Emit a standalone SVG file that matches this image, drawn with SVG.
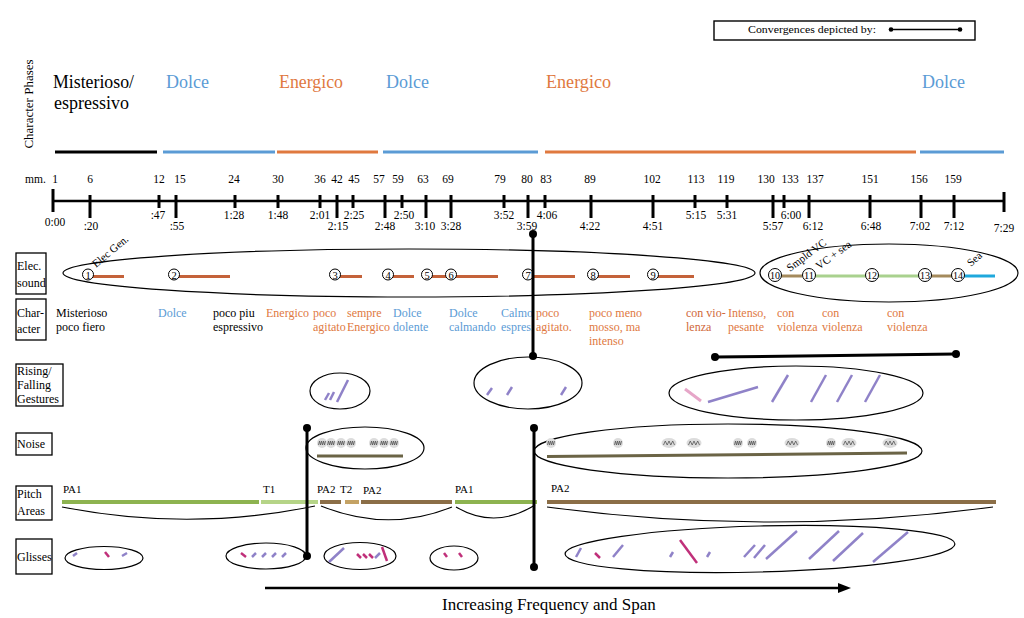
<svg xmlns="http://www.w3.org/2000/svg" xmlns:xlink="http://www.w3.org/1999/xlink" width="1024" height="618" viewBox="0 0 1024 618">
<style>
text{font-family:"Liberation Serif","Times New Roman",serif;fill:#000}
.ph{font-size:19px}
.num{font-size:11.5px;text-anchor:middle}
.lab{font-size:12px}
.ch{font-size:12px}
.or{fill:#e0793f}
.bl{fill:#5b9bd5}
.tick{stroke:#000;stroke-width:3}
.box{fill:none;stroke:#000;stroke-width:1.3}
.ell{fill:none;stroke:#000;stroke-width:1.2}
.cn{fill:#fff;stroke:#000;stroke-width:1}
.cnt{font-size:10.5px;text-anchor:middle}
.el{stroke:#c4623a;stroke-width:3}
.pu{stroke:#8f82c8;stroke-width:2.5;stroke-linecap:butt}
.mg{stroke:#c0307a;stroke-width:2.5}
.pk{stroke:#e6a6c8;stroke-width:3}
.conv{stroke:#000;stroke-width:3;fill:none}
.dot{fill:#000}
.br{fill:none;stroke:#000;stroke-width:1.1}
</style>
<defs>
<g id="nz"><ellipse rx="5" ry="5" fill="#dcdcdc"/><path d="M-3.5,2 L-2.5,-2 L-1.5,2 L-0.5,-2 L0.5,2 L1.5,-2 L2.5,2 L3.5,-2" fill="none" stroke="#555" stroke-width="0.8"/></g>
<g id="nzw"><ellipse rx="7.5" ry="5" fill="#dcdcdc"/><path d="M-5.5,2 L-3.7,-2 L-1.8,2 L0,-2 L1.8,2 L3.7,-2 L5.5,2" fill="none" stroke="#555" stroke-width="0.8"/></g>
</defs>
<rect width="1024" height="618" fill="#fff"/>

<g id="legend">
<rect x="714" y="21" width="261" height="19" fill="none" stroke="#000" stroke-width="1.4"/>
<text x="748" y="33" font-size="11" textLength="128" lengthAdjust="spacingAndGlyphs">Convergences depicted by:</text>
<line x1="891" y1="29.5" x2="960" y2="29.5" stroke="#000" stroke-width="1.5"/>
<circle cx="891" cy="29.5" r="2.3"/><circle cx="960" cy="29.5" r="2.3"/>
</g>

<g id="phases">
<text transform="translate(33,104) rotate(-90)" font-size="13" text-anchor="middle">Character Phases</text>
<text class="ph" x="53" y="88" textLength="81" lengthAdjust="spacingAndGlyphs">Misterioso/</text>
<text class="ph" x="54" y="109" textLength="75" lengthAdjust="spacingAndGlyphs">espressivo</text>
<text class="ph bl" x="166" y="88" textLength="43" lengthAdjust="spacingAndGlyphs">Dolce</text>
<text class="ph or" x="279" y="88" textLength="64" lengthAdjust="spacingAndGlyphs">Energico</text>
<text class="ph bl" x="386" y="88" textLength="43" lengthAdjust="spacingAndGlyphs">Dolce</text>
<text class="ph or" x="546" y="88" textLength="65" lengthAdjust="spacingAndGlyphs">Energico</text>
<text class="ph bl" x="922" y="88" textLength="43" lengthAdjust="spacingAndGlyphs">Dolce</text>
<g stroke-width="3">
<line x1="55" y1="152" x2="157" y2="152" stroke="#000"/>
<line x1="163" y1="152" x2="275" y2="152" stroke="#5b9bd5"/>
<line x1="277" y1="152" x2="378" y2="152" stroke="#e0793f"/>
<line x1="383" y1="152" x2="538" y2="152" stroke="#5b9bd5"/>
<line x1="545" y1="152" x2="916" y2="152" stroke="#e0793f"/>
<line x1="920" y1="152" x2="1004" y2="152" stroke="#5b9bd5"/>
</g>
</g>

<g id="timeline">
<line x1="53" y1="201" x2="1004" y2="201" stroke="#000" stroke-width="2.5"/>
<text x="25" y="183" font-size="11.5">mm.</text>
<line class="tick" x1="53" y1="189" x2="53" y2="212"/><text class="num" x="55" y="183">1</text><text class="num" x="55" y="226">0:00</text>
<line class="tick" x1="90" y1="195" x2="90" y2="218"/><text class="num" x="90" y="183">6</text><text class="num" x="91" y="230">:20</text>
<line class="tick" x1="159" y1="195" x2="159" y2="208"/><text class="num" x="159" y="183">12</text><text class="num" x="158" y="219">:47</text>
<line class="tick" x1="176" y1="195" x2="176" y2="218"/><text class="num" x="180" y="183">15</text><text class="num" x="177" y="230">:55</text>
<line class="tick" x1="235" y1="195" x2="235" y2="208"/><text class="num" x="234" y="183">24</text><text class="num" x="234" y="219">1:28</text>
<line class="tick" x1="278" y1="195" x2="278" y2="208"/><text class="num" x="278" y="183">30</text><text class="num" x="278" y="219">1:48</text>
<line class="tick" x1="320" y1="195" x2="320" y2="208"/><text class="num" x="320" y="183">36</text><text class="num" x="320" y="219">2:01</text>
<line class="tick" x1="337" y1="195" x2="337" y2="218"/><text class="num" x="337" y="183">42</text><text class="num" x="338" y="230">2:15</text>
<line class="tick" x1="353" y1="195" x2="353" y2="208"/><text class="num" x="354" y="183">45</text><text class="num" x="354" y="219">2:25</text>
<line class="tick" x1="385" y1="195" x2="385" y2="218"/><text class="num" x="379" y="183">57</text><text class="num" x="385" y="230">2:48</text>
<line class="tick" x1="402" y1="195" x2="402" y2="208"/><text class="num" x="398" y="183">59</text><text class="num" x="404" y="219">2:50</text>
<line class="tick" x1="426" y1="195" x2="426" y2="218"/><text class="num" x="423" y="183">63</text><text class="num" x="425" y="230">3:10</text>
<line class="tick" x1="451" y1="195" x2="451" y2="218"/><text class="num" x="448" y="183">69</text><text class="num" x="451" y="230">3:28</text>
<line class="tick" x1="504" y1="195" x2="504" y2="208"/><text class="num" x="500" y="183">79</text><text class="num" x="504" y="219">3:52</text>
<line class="tick" x1="528" y1="195" x2="528" y2="218"/><text class="num" x="527" y="183">80</text><text class="num" x="527" y="230">3:59</text>
<line class="tick" x1="545" y1="195" x2="545" y2="208"/><text class="num" x="546" y="183">83</text><text class="num" x="547" y="219">4:06</text>
<line class="tick" x1="591" y1="195" x2="591" y2="218"/><text class="num" x="590" y="183">89</text><text class="num" x="590" y="230">4:22</text>
<line class="tick" x1="653" y1="195" x2="653" y2="218"/><text class="num" x="652" y="183">102</text><text class="num" x="653" y="230">4:51</text>
<line class="tick" x1="695" y1="195" x2="695" y2="208"/><text class="num" x="696" y="183">113</text><text class="num" x="696" y="219">5:15</text>
<line class="tick" x1="727" y1="195" x2="727" y2="208"/><text class="num" x="726" y="183">119</text><text class="num" x="727" y="219">5:31</text>
<line class="tick" x1="773" y1="195" x2="773" y2="218"/><text class="num" x="766" y="183">130</text><text class="num" x="773" y="230">5:57</text>
<line class="tick" x1="784" y1="195" x2="784" y2="208"/><text class="num" x="790" y="183">133</text><text class="num" x="791" y="219">6:00</text>
<line class="tick" x1="809" y1="195" x2="809" y2="218"/><text class="num" x="815" y="183">137</text><text class="num" x="813" y="230">6:12</text>
<line class="tick" x1="870" y1="195" x2="870" y2="218"/><text class="num" x="870" y="183">151</text><text class="num" x="871" y="230">6:48</text>
<line class="tick" x1="921" y1="195" x2="921" y2="218"/><text class="num" x="919" y="183">156</text><text class="num" x="920" y="230">7:02</text>
<line class="tick" x1="954" y1="195" x2="954" y2="218"/><text class="num" x="953" y="183">159</text><text class="num" x="954" y="230">7:12</text>
<line class="tick" x1="1004" y1="192" x2="1004" y2="212"/><text class="num" x="1004" y="232">7:29</text>
</g>

<g id="row-labels">
<rect class="box" x="16" y="253" width="30" height="41"/>
<text class="lab" x="17" y="270">Elec.</text><text class="lab" x="17" y="287">sound</text>
<rect class="box" x="16" y="299" width="30" height="41"/>
<text class="lab" x="17" y="317">Char-</text><text class="lab" x="17" y="333">acter</text>
<rect class="box" x="16" y="364" width="47" height="42"/>
<text class="lab" x="17" y="375">Rising/</text><text class="lab" x="17" y="389">Falling</text><text class="lab" x="17" y="403">Gestures</text>
<rect class="box" x="16" y="433" width="36" height="22"/>
<text class="lab" x="17" y="448">Noise</text>
<rect class="box" x="16" y="486" width="36" height="34"/>
<text class="lab" x="17" y="498">Pitch</text><text class="lab" x="17" y="515">Areas</text>
<rect class="box" x="16" y="539" width="36" height="35"/>
<text class="lab" x="17" y="561">Glisses</text>
</g>

<g id="elec-sound">
<ellipse class="ell" cx="409" cy="273" rx="346" ry="24"/>
<ellipse class="ell" cx="889" cy="273" rx="129" ry="29"/>
<text transform="translate(96,268) rotate(-40)" font-size="11">Elec Gen.</text>
<text transform="translate(790,272) rotate(-37)" font-size="11">Smpld VC</text>
<text transform="translate(819,270) rotate(-36)" font-size="11">VC + sea</text>
<text transform="translate(971,267) rotate(-42)" font-size="11">Sea</text>
<line class="el" x1="93" y1="276.5" x2="124" y2="276.5"/>
<line class="el" x1="179" y1="276.5" x2="230" y2="276.5"/>
<line class="el" x1="340" y1="276.5" x2="362" y2="276.5"/>
<line class="el" x1="393" y1="276.5" x2="414" y2="276.5"/>
<line class="el" x1="432" y1="276.5" x2="446" y2="276.5"/>
<line class="el" x1="456" y1="276.5" x2="498" y2="276.5"/>
<line class="el" x1="533" y1="276.5" x2="575" y2="276.5"/>
<line class="el" x1="598" y1="276.5" x2="630" y2="276.5"/>
<line class="el" x1="658" y1="276.5" x2="694" y2="276.5"/>
<line x1="781" y1="276" x2="802" y2="276" stroke="#a48a5c" stroke-width="3"/>
<line x1="815" y1="276" x2="866" y2="276" stroke="#a9d18e" stroke-width="3"/>
<line x1="878" y1="276" x2="919" y2="276" stroke="#a9d18e" stroke-width="3"/>
<line x1="931" y1="276" x2="952" y2="276" stroke="#a48a5c" stroke-width="3"/>
<line x1="964" y1="276" x2="995" y2="276" stroke="#1fa8dc" stroke-width="3"/>
<g id="n1"><circle class="cn" cx="88" cy="274.5" r="5.5"/><text class="cnt" x="88" y="278.5">1</text></g>
<g id="n2"><circle class="cn" cx="174" cy="274.5" r="5.5"/><text class="cnt" x="174" y="278.5">2</text></g>
<g id="n3"><circle class="cn" cx="335" cy="274.5" r="5.5"/><text class="cnt" x="335" y="278.5">3</text></g>
<g id="n4"><circle class="cn" cx="388" cy="274.5" r="5.5"/><text class="cnt" x="388" y="278.5">4</text></g>
<g id="n5"><circle class="cn" cx="427" cy="274.5" r="5.5"/><text class="cnt" x="427" y="278.5">5</text></g>
<g id="n6"><circle class="cn" cx="451" cy="274.5" r="5.5"/><text class="cnt" x="451" y="278.5">6</text></g>
<g id="n7"><circle class="cn" cx="528" cy="274.5" r="5.5"/><text class="cnt" x="528" y="278.5">7</text></g>
<g id="n8"><circle class="cn" cx="593" cy="274.5" r="5.5"/><text class="cnt" x="593" y="278.5">8</text></g>
<g id="n9"><circle class="cn" cx="653" cy="274.5" r="5.5"/><text class="cnt" x="653" y="278.5">9</text></g>
<g id="n10"><circle class="cn" cx="775" cy="275" r="6.5"/><text class="cnt" x="775" y="279" textLength="10" lengthAdjust="spacingAndGlyphs">10</text></g>
<g id="n11"><circle class="cn" cx="809" cy="275" r="6.5"/><text class="cnt" x="809" y="279" textLength="10" lengthAdjust="spacingAndGlyphs">11</text></g>
<g id="n12"><circle class="cn" cx="872" cy="275" r="6.5"/><text class="cnt" x="872" y="279" textLength="10" lengthAdjust="spacingAndGlyphs">12</text></g>
<g id="n13"><circle class="cn" cx="925" cy="275" r="6.5"/><text class="cnt" x="925" y="279" textLength="10" lengthAdjust="spacingAndGlyphs">13</text></g>
<g id="n14"><circle class="cn" cx="958" cy="275" r="6.5"/><text class="cnt" x="958" y="279" textLength="10" lengthAdjust="spacingAndGlyphs">14</text></g>
</g>

<g id="character">
<text class="ch" x="56" y="317">Misterioso</text><text class="ch" x="56" y="331">poco fiero</text>
<text class="ch bl" x="158" y="317">Dolce</text>
<text class="ch" x="213" y="317">poco piu</text><text class="ch" x="213" y="331">espressivo</text>
<text class="ch or" x="266" y="317">Energico</text>
<text class="ch or" x="313" y="317">poco</text><text class="ch or" x="313" y="331">agitato</text>
<text class="ch or" x="347" y="317">sempre</text><text class="ch or" x="347" y="331">Energico</text>
<text class="ch bl" x="393" y="317">Dolce</text><text class="ch bl" x="393" y="331">dolente</text>
<text class="ch bl" x="449" y="317">Dolce</text><text class="ch bl" x="449" y="331">calmando</text>
<text class="ch bl" x="501" y="317">Calmo</text><text class="ch bl" x="501" y="331">espres.</text>
<text class="ch or" x="536" y="317">poco</text><text class="ch or" x="536" y="331">agitato.</text>
<text class="ch or" x="589" y="317">poco meno</text><text class="ch or" x="589" y="331">mosso, ma</text><text class="ch or" x="589" y="345">intenso</text>
<text class="ch" x="686" y="317" style="fill:#d0683a">con vio-</text><text class="ch" x="686" y="331" style="fill:#d0683a">lenza</text>
<text class="ch or" x="728" y="317">Intenso,</text><text class="ch or" x="728" y="331">pesante</text>
<text class="ch or" x="777" y="317">con</text><text class="ch or" x="777" y="331">violenza</text>
<text class="ch or" x="822" y="317">con</text><text class="ch or" x="822" y="331">violenza</text>
<text class="ch or" x="887" y="317">con</text><text class="ch or" x="887" y="331">violenza</text>
</g>

<g id="rising">
<ellipse class="ell" cx="340" cy="391" rx="30" ry="18"/>
<line class="pu" x1="325" y1="400" x2="329" y2="393"/>
<line class="pu" x1="330" y1="400" x2="334" y2="392"/>
<line class="pu" x1="337" y1="402" x2="348" y2="380"/>
<ellipse class="ell" cx="528" cy="383" rx="54" ry="26"/>
<line class="pu" x1="487" y1="395" x2="492" y2="388"/>
<line class="pu" x1="507" y1="395" x2="512" y2="387"/>
<line class="pu" x1="561" y1="395" x2="566" y2="387"/>
<ellipse class="ell" cx="796" cy="393" rx="127" ry="27"/>
<line class="pk" x1="685" y1="389" x2="701" y2="401"/>
<line class="pu" x1="708" y1="402" x2="758" y2="387" stroke-width="3"/>
<line class="pu" x1="772" y1="402" x2="788" y2="375" stroke-width="3"/>
<line class="pu" x1="811" y1="402" x2="826" y2="375" stroke-width="3"/>
<line class="pu" x1="837" y1="402" x2="852" y2="375" stroke-width="3"/>
<line class="pu" x1="865" y1="402" x2="880" y2="375" stroke-width="3"/>
</g>

<g id="noise">
<ellipse class="ell" cx="365" cy="448" rx="59" ry="21"/>
<line x1="317" y1="456" x2="403" y2="456" stroke="#6b6446" stroke-width="3"/>
<use xlink:href="#nz" x="322" y="443"/><use xlink:href="#nz" x="331" y="443"/><use xlink:href="#nz" x="341" y="443"/><use xlink:href="#nz" x="351" y="443"/>
<use xlink:href="#nz" x="374" y="443"/><use xlink:href="#nz" x="384" y="443"/><use xlink:href="#nz" x="394" y="443"/>
<ellipse class="ell" cx="728" cy="451" rx="194" ry="27"/>
<line x1="547" y1="456.5" x2="907" y2="453" stroke="#6b6446" stroke-width="3"/>
<use xlink:href="#nz" x="551" y="443"/><use xlink:href="#nz" x="618" y="443"/>
<use xlink:href="#nzw" x="669" y="443"/><use xlink:href="#nzw" x="694" y="443"/>
<use xlink:href="#nz" x="738" y="443"/><use xlink:href="#nz" x="752" y="443"/>
<use xlink:href="#nzw" x="792" y="443"/><use xlink:href="#nz" x="831" y="443"/>
<use xlink:href="#nzw" x="849" y="443"/><use xlink:href="#nzw" x="890" y="443"/>
</g>

<g id="pitch">
<text x="63" y="493" font-size="11">PA1</text>
<text x="263" y="493" font-size="11">T1</text>
<text x="317" y="493" font-size="11">PA2</text>
<text x="340" y="493" font-size="11">T2</text>
<text x="363" y="494" font-size="11">PA2</text>
<text x="455" y="493" font-size="11">PA1</text>
<text x="551" y="492" font-size="11">PA2</text>
<g stroke-width="4">
<line x1="62" y1="502" x2="259" y2="502" stroke="#8db350"/>
<line x1="261" y1="502" x2="318" y2="502" stroke="#b5d487"/>
<line x1="320" y1="502" x2="341" y2="502" stroke="#8b6e47"/>
<line x1="345" y1="502" x2="359" y2="502" stroke="#c4a264"/>
<line x1="361" y1="502" x2="452" y2="502" stroke="#8b6e47"/>
<line x1="455" y1="502" x2="537" y2="502" stroke="#8db350"/>
<line x1="547" y1="502" x2="996" y2="502" stroke="#8b6e47"/>
</g>
<path class="br" d="M62,507 Q190,532 315,506"/>
<path class="br" d="M321,506 Q388,533 452,507"/>
<path class="br" d="M456,507 Q495,530 535,505"/>
<path class="br" d="M547,507 Q770,537 993,507"/>
</g>

<g id="glisses">
<ellipse class="ell" cx="104" cy="558" rx="39" ry="11.5"/>
<line class="pu" x1="73" y1="556" x2="77" y2="553"/>
<line class="mg" x1="105" y1="552" x2="109" y2="557"/>
<line class="pu" x1="122" y1="556" x2="127" y2="553"/>
<ellipse class="ell" cx="266" cy="556" rx="40" ry="13"/>
<line class="mg" x1="241" y1="553" x2="246" y2="557"/>
<line class="pu" x1="252" y1="557" x2="256" y2="553"/>
<line class="pu" x1="262" y1="557" x2="266" y2="553"/>
<line class="pu" x1="272" y1="557" x2="276" y2="553"/>
<line class="pu" x1="282" y1="557" x2="286" y2="553"/>
<ellipse class="ell" cx="360" cy="556" rx="36" ry="13.5"/>
<line class="pu" x1="329" y1="562" x2="344" y2="548"/>
<line class="mg" x1="357" y1="554" x2="361" y2="558"/>
<line class="mg" x1="363" y1="554" x2="367" y2="558"/>
<line class="mg" x1="369" y1="554" x2="373" y2="558"/>
<line class="pu" x1="375" y1="558" x2="380" y2="553"/>
<line class="mg" x1="382" y1="547" x2="387" y2="561"/>
<ellipse class="ell" cx="454" cy="558" rx="24" ry="12"/>
<line class="mg" x1="444" y1="553" x2="447" y2="557"/>
<line class="mg" x1="459" y1="553" x2="462" y2="557"/>
<ellipse class="ell" cx="760" cy="549" rx="195" ry="23" transform="rotate(-1.5 760 549)"/>
<line class="pu" x1="576" y1="557" x2="581" y2="548"/>
<line class="mg" x1="595" y1="553" x2="600" y2="558"/>
<line class="pu" x1="613" y1="557" x2="623" y2="545"/>
<line class="pu" x1="670" y1="557" x2="673" y2="552"/>
<line class="mg" x1="680" y1="540" x2="697" y2="563" stroke-width="3"/>
<line class="pu" x1="707" y1="557" x2="710" y2="552"/>
<line class="pu" x1="744" y1="557" x2="755" y2="545"/>
<line class="pu" x1="754" y1="558" x2="765" y2="545"/>
<line class="pu" x1="766" y1="559" x2="797" y2="531"/>
<line class="pu" x1="809" y1="559" x2="839" y2="531"/>
<line class="pu" x1="833" y1="561" x2="863" y2="533"/>
<line class="pu" x1="873" y1="562" x2="908" y2="532"/>
</g>

<g id="connectors">
<line class="conv" x1="533" y1="234" x2="533" y2="356"/>
<circle class="dot" cx="533" cy="234" r="4"/><circle class="dot" cx="533" cy="356" r="4"/>
<line class="conv" x1="715" y1="357" x2="956" y2="354"/>
<circle class="dot" cx="715" cy="357" r="4"/><circle class="dot" cx="956" cy="354" r="4"/>
<line class="conv" x1="307" y1="428" x2="307" y2="556"/>
<circle class="dot" cx="307" cy="428" r="4"/><circle class="dot" cx="307" cy="556" r="4"/>
<line class="conv" x1="534" y1="428" x2="534" y2="567"/>
<circle class="dot" cx="534" cy="428" r="4"/><circle class="dot" cx="534" cy="567" r="4"/>
</g>

<g id="arrow">
<line x1="265" y1="588" x2="840" y2="588" stroke="#000" stroke-width="2.5"/>
<polygon points="838,583 851,588 838,593" fill="#000"/>
<text x="442" y="610" font-size="17">Increasing Frequency and Span</text>
</g>
</svg>
